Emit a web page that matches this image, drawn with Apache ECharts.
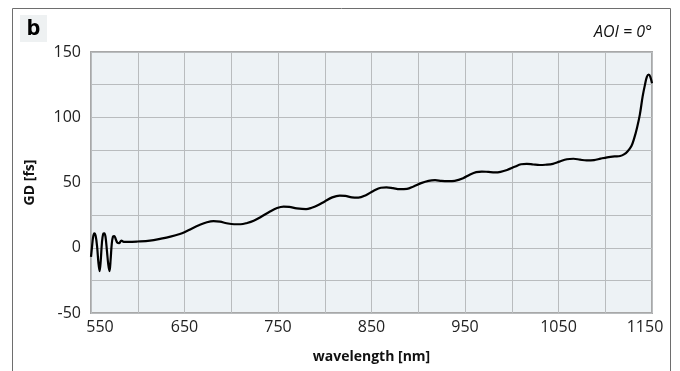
<!DOCTYPE html>
<html>
<head>
<meta charset="utf-8">
<script src="https://cdn.jsdelivr.net/npm/echarts@6/dist/echarts.min.js"></script>
<style>
  html, body { margin: 0; padding: 0; background: #fff; }
  #chart { width: 680px; height: 371px; }
</style>
</head>
<body>
<div id="chart"></div>
<script>
// Group delay of the mirror coating versus wavelength, normal incidence
const wavelengthNm = [
  550, 551, 552.2, 553.5, 555, 556.5, 558, 559.2, 560.4, 561.7, 563, 564.3, 565.6, 567, 568.5, 569.8, 571,
  572.2, 573.5, 575, 576.5, 578, 580, 582.5, 585, 590, 600, 613, 625, 635, 645, 651, 658, 666, 674,
  681, 688, 695, 703, 710, 717, 724, 732, 741, 749, 756, 762, 770, 780, 786, 792, 800, 808,
  816, 822, 829, 836, 844, 852, 860, 866, 873, 880, 888, 895, 903, 911, 918, 925, 932, 939,
  948, 955, 962, 968, 975, 982, 988, 995, 1003, 1010, 1016, 1023, 1030, 1036, 1044, 1051,
  1059, 1066, 1073, 1080, 1088, 1095, 1102, 1110, 1116, 1120, 1124, 1128, 1131, 1134, 1137,
  1140, 1142.5, 1144.5, 1146.5, 1148.2, 1150
];
const groupDelayFs = [
  -7, 0, 8, 11, 9, 1, -12, -18, -10, 4, 10.5, 11, 8, -2, -13, -18, -9,
  3, 8.5, 9, 6.5, 4, 3.5, 5.5, 4.5, 4.5, 4.8, 5.5, 7, 8.5, 10.5, 12.3, 14.8, 17.4, 19.5,
  20.4, 20, 18.8, 18, 18, 19, 20.7, 23.8, 27.6, 30.4, 31.5, 31.3, 30.2, 29.6, 30.6, 32.3, 35.5, 38.6,
  40, 39.8, 38.6, 38.4, 40.3, 43.5, 46, 46.3, 45.7, 44.9, 45.1, 47, 49.5, 51.3, 51.8, 51.2, 51, 51.3,
  53.3, 56, 58, 58.4, 58.1, 57.8, 58.2, 59.6, 62, 64, 64.3, 63.8, 63.4, 63.6, 64.3, 66,
  67.8, 68.2, 67.5, 66.9, 67.2, 68.3, 69.3, 70, 70.3, 71.5, 74, 78, 84, 92, 102,
  116, 125, 131, 132.6, 131, 126
];
const xTickLabels = ['550', '650', '750', '850', '950', '1050', '1150'];
const yTickLabels = ['-50', '0', '50', '100', '150'];

const seriesData = wavelengthNm.map((w, i) => [w, groupDelayFs[i]]);

const labelFont = '"Open Sans", "Noto Sans", sans-serif';
const chart = echarts.init(document.getElementById('chart'), null, { renderer: 'canvas' });

chart.setOption({
  animation: false,
  backgroundColor: '#ffffff',
  grid: {
    left: 91, right: 28, top: 52, bottom: 58,
    show: true,
    backgroundColor: '#edf2f5',
    borderColor: '#a8a8a8',
    borderWidth: 2
  },
  xAxis: {
    type: 'value',
    min: 550, max: 1150, interval: 50,
    name: 'wavelength [nm]',
    nameLocation: 'middle',
    nameGap: 37,
    nameTextStyle: { fontFamily: labelFont, fontWeight: 'bold', fontSize: 14, color: '#111' },
    axisLine: { show: false },
    axisTick: { show: false },
    splitLine: { show: true, lineStyle: { color: '#b9bcbe', width: 1 } },
    axisLabel: {
      margin: 6,
      fontFamily: labelFont, fontSize: 16, color: '#222',
      formatter: function (v) {
        const s = String(v);
        if (xTickLabels.indexOf(s) < 0) return '';
        if (s === '550') return '{l|' + s + '}';
        if (s === '1150') return '{r|' + s + '}';
        return s;
      },
      rich: {
        l: { fontFamily: labelFont, fontSize: 16, color: '#222', padding: [0, 0, 0, 18] },
        r: { fontFamily: labelFont, fontSize: 16, color: '#222', padding: [0, 14, 0, 0] }
      }
    }
  },
  yAxis: {
    type: 'value',
    min: -50, max: 150, interval: 25,
    name: 'GD [fs]',
    nameLocation: 'middle',
    nameGap: 54,
    nameTextStyle: { fontFamily: labelFont, fontWeight: 'bold', fontSize: 14, color: '#111' },
    axisLine: { show: false },
    axisTick: { show: false },
    splitLine: { show: true, lineStyle: { color: '#b9bcbe', width: 1 } },
    axisLabel: {
      margin: 10,
      fontFamily: labelFont, fontSize: 16, color: '#222',
      padding: [6, 0, 0, 0],
      formatter: function (v) {
        const s = String(v);
        return yTickLabels.indexOf(s) >= 0 ? s : '';
      }
    }
  },
  series: [{
    type: 'line',
    data: seriesData,
    showSymbol: false,
    smooth: 0.35,
    lineStyle: { color: '#000', width: 2.2 },
    clip: true
  }],
  graphic: [
    // outer panel frame (top edge and both sides)
    { type: 'polyline', shape: { points: [[12.5, 371], [12.5, 8.5], [670.5, 8.5], [670.5, 371]] },
      style: { stroke: '#6e6e6e', lineWidth: 1, fill: null }, z: 10 },
    // panel letter tag
    { type: 'rect', shape: { x: 20, y: 15, width: 27, height: 27 }, style: { fill: '#eef1f2' }, z: 10 },
    { type: 'text', x: 33.5, y: 29, style: { text: 'b', fontFamily: labelFont, fontWeight: 'bold',
      fontSize: 22, fill: '#000', align: 'center', verticalAlign: 'middle' }, z: 11 },
    // incidence angle note
    { type: 'text', x: 652, y: 32, style: { text: 'AOI = 0°', fontFamily: labelFont, fontStyle: 'italic',
      fontSize: 16, fill: '#111', align: 'right', verticalAlign: 'middle' }, z: 11 }
  ]
});
</script>
</body>
</html>
